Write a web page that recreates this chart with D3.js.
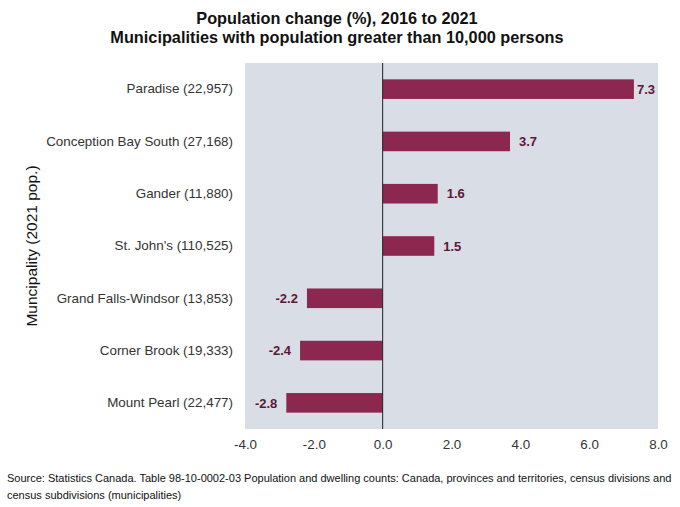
<!DOCTYPE html>
<html>
<head>
<meta charset="utf-8">
<script src="https://cdn.jsdelivr.net/npm/d3@7"></script>
<style>
  body { margin: 0; background: #fff; }
  text { font-family: Arial, "Liberation Sans", sans-serif; }
</style>
</head>
<body>
<div id="chart"></div>
<script>
var municipalities = ["Paradise (22,957)", "Conception Bay South (27,168)", "Gander (11,880)",
  "St. John's (110,525)", "Grand Falls-Windsor (13,853)", "Corner Brook (19,333)", "Mount Pearl (22,477)"];
var change = [7.3, 3.7, 1.6, 1.5, -2.2, -2.4, -2.8];
var xTicks = [-4, -2, 0, 2, 4, 6, 8];

var W = 680, H = 507;
var margin = { top: 63, right: 22, bottom: 78, left: 245 };

var svg = d3.select("#chart").append("svg")
  .attr("width", W)
  .attr("height", H);

var x = d3.scaleLinear().domain([-4, 8]).range([margin.left, W - margin.right]);
var y = d3.scaleBand().domain(municipalities)
  .range([margin.top, H - margin.bottom])
  .paddingInner(0.625)
  .paddingOuter(0.3125);

// plot background
svg.append("rect")
  .attr("x", x(-4)).attr("y", margin.top)
  .attr("width", x(8) - x(-4)).attr("height", H - margin.bottom - margin.top)
  .attr("fill", "#d8dde6");

// bars
svg.selectAll("rect.bar").data(change).enter().append("rect")
  .attr("class", "bar")
  .attr("x", function(d) { return x(Math.min(0, d)); })
  .attr("y", function(d, i) { return y(municipalities[i]); })
  .attr("width", function(d) { return Math.abs(x(d) - x(0)); })
  .attr("height", y.bandwidth())
  .attr("fill", "#8c2850");

// zero line
svg.append("line")
  .attr("x1", x(0)).attr("x2", x(0))
  .attr("y1", margin.top).attr("y2", H - margin.bottom)
  .attr("stroke", "#222").attr("stroke-width", 1);

// value labels
svg.selectAll("text.val").data(change).enter().append("text")
  .attr("class", "val")
  .attr("x", function(d) {
    if (d < 0) return x(d) - 9;
    return Math.min(x(d) + 9, x(8) - 21);
  })
  .attr("y", function(d, i) { return y(municipalities[i]) + y.bandwidth() / 2; })
  .attr("dy", "0.36em")
  .attr("text-anchor", function(d) { return d < 0 ? "end" : "start"; })
  .attr("font-size", 13)
  .attr("font-weight", "bold")
  .attr("fill", "#5e1636")
  .text(function(d) { return d.toFixed(1); });

// y axis labels
var yAxis = svg.append("g")
  .attr("transform", "translate(" + (margin.left - 12) + ",0)")
  .call(d3.axisLeft(y).tickSize(0).tickPadding(0));
yAxis.select(".domain").remove();
yAxis.selectAll("text").attr("font-size", 13.4).attr("fill", "#333")
  .style("font-family", "Arial, 'Liberation Sans', sans-serif");

// x axis labels
var xAxis = svg.append("g")
  .attr("transform", "translate(0," + (H - margin.bottom) + ")")
  .call(d3.axisBottom(x).tickValues(xTicks).tickSize(0).tickPadding(10)
    .tickFormat(d3.format(".1f")));
xAxis.select(".domain").remove();
xAxis.selectAll("text").attr("font-size", 13.4).attr("fill", "#333")
  .style("font-family", "Arial, 'Liberation Sans', sans-serif")
  .text(function(d) { return d < 0 ? "-" + Math.abs(d).toFixed(1) : d.toFixed(1); });

// y axis title
svg.append("text")
  .attr("transform", "translate(37," + ((margin.top + H - margin.bottom) / 2) + ") rotate(-90)")
  .attr("text-anchor", "middle")
  .attr("font-size", 15.5)
  .attr("fill", "#111")
  .text("Muncipality (2021 pop.)");

// title
svg.append("text")
  .attr("x", 337).attr("y", 24)
  .attr("text-anchor", "middle")
  .attr("font-size", 16.3).attr("font-weight", "bold").attr("fill", "#111")
  .text("Population change (%), 2016 to 2021");
svg.append("text")
  .attr("x", 337).attr("y", 43)
  .attr("text-anchor", "middle")
  .attr("font-size", 16.3).attr("font-weight", "bold").attr("fill", "#111")
  .text("Municipalities with population greater than 10,000 persons");

// source
svg.append("text")
  .attr("x", 7).attr("y", 482)
  .attr("font-size", 11).attr("fill", "#111")
  .text("Source: Statistics Canada. Table 98-10-0002-03  Population and dwelling counts: Canada, provinces and territories, census divisions and");
svg.append("text")
  .attr("x", 7).attr("y", 499)
  .attr("font-size", 11).attr("fill", "#111")
  .text("census subdivisions (municipalities)");
</script>
</body>
</html>
